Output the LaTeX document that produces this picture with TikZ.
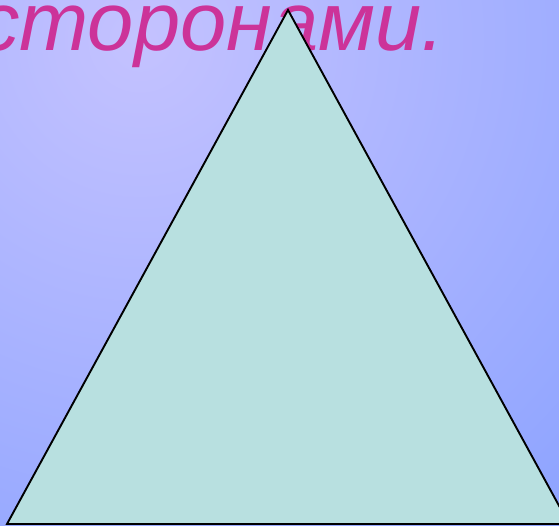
\documentclass[tikz,border=0pt]{standalone}
\usepackage{fontspec}
\setmainfont{Liberation Sans}
\definecolor{bgtop}{HTML}{C4C2FF}
\definecolor{bgbottom}{HTML}{6E92FF}
\definecolor{trifill}{HTML}{B8E0E0}
\definecolor{textpink}{HTML}{CC3399}

\begin{document}
\begin{tikzpicture}[x=1pt,y=-1pt,
 title/.style={text=textpink,font=\fontsize{83}{83}\selectfont\itshape,inner sep=0pt,anchor=base west},
 tri/.style={draw=black,line width=1.9pt,fill=trifill,line join=miter}]
\useasboundingbox (0,0) rectangle (559,526);
\clip (0,0) rectangle (559,526);
\shade[inner color=bgtop,outer color=bgbottom] (140,40) circle (1000);
\node[title] (head) at (-22,51) {сторонами.};
% triangle over the text
\coordinate (apex) at (288,10);
\coordinate (bl) at (7,524);
\coordinate (br) at (569,524);
\draw[tri] (apex) -- (bl) -- (br) -- cycle;
\end{tikzpicture}
\end{document}
